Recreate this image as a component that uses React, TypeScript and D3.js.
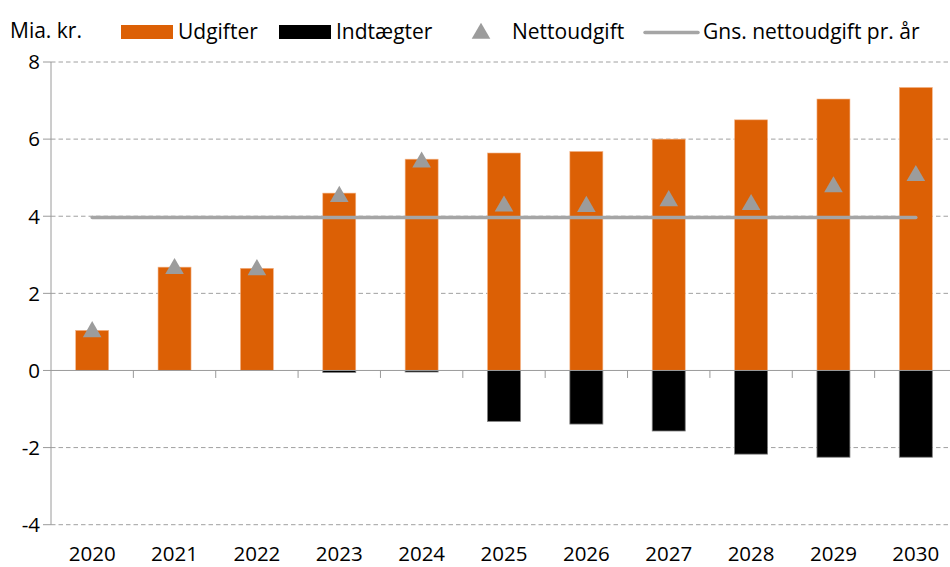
import React from "react";
import * as d3 from "d3";

const years = ["2020","2021","2022","2023","2024","2025","2026","2027","2028","2029","2030"];
const udgifter = [1.04, 2.68, 2.65, 4.6, 5.48, 5.64, 5.68, 6.0, 6.5, 7.04, 7.34];
const indtaegter = [0, 0, 0, -0.05, -0.04, -1.32, -1.39, -1.57, -2.17, -2.25, -2.25];
const nettoudgift = [1.04, 2.68, 2.65, 4.55, 5.44, 4.3, 4.29, 4.44, 4.34, 4.8, 5.09];
const gnsNetto = 3.97;
const yTicks = [-4, -2, 0, 2, 4, 6, 8];

const W = 950, H = 567;
const FONT = "'Open Sans', Lato, sans-serif";
const ORANGE = "#DC6005";
const GREY = "#A5A5A5";

export default function App() {
  const x = d3.scaleBand<string>().domain(years).range([51, 957]).padding(0);
  const y = d3.scaleLinear().domain([-4, 8]).range([524.7, 62]);
  const bw = 33;
  const cx = (yr: string) => (x(yr) as number) + x.bandwidth() / 2;
  const tri = d3.symbol().type(d3.symbolTriangle).size(150);

  return (
    <svg width={W} height={H} style={{ position: "absolute", left: 0, top: 0, background: "#fff" }} fontFamily={FONT}>
      {yTicks.filter(t => t !== 0).map(t => (
        <line key={"g" + t} x1={51} x2={957} y1={y(t)} y2={y(t)} stroke="#A0A0A0" strokeWidth={1} strokeDasharray="4.5,3" />
      ))}
      <line x1={51} x2={51} y1={y(8)} y2={y(-4)} stroke="#9A9A9A" strokeWidth={1} />
      {yTicks.map(t => (
        <g key={"yt" + t}>
          <line x1={43} x2={51} y1={y(t)} y2={y(t)} stroke="#9A9A9A" />
          <text x={40} y={y(t)} dy="0.36em" textAnchor="end" fontSize={20.5} fill="#000">{t}</text>
        </g>
      ))}
      {years.map((yr, i) => (
        <rect key={"u" + yr} x={cx(yr) - bw / 2} width={bw} y={y(udgifter[i])} height={y(0) - y(udgifter[i])} fill={ORANGE} stroke="#F3B58A" strokeWidth={0.6} />
      ))}
      {years.map((yr, i) => indtaegter[i] < 0 ? (
        <rect key={"i" + yr} x={cx(yr) - bw / 2} width={bw} y={y(0)} height={y(indtaegter[i]) - y(0)} fill="#000" stroke="#7F7F7F" strokeWidth={0.8} />
      ) : null)}
      <line x1={51} x2={957} y1={y(0)} y2={y(0)} stroke="#9A9A9A" strokeWidth={1} />
      {years.map(yr => (
        <line key={"xt" + yr} x1={(x(yr) as number) + x.bandwidth()} x2={(x(yr) as number) + x.bandwidth()} y1={y(0)} y2={y(0) + 7.5} stroke="#9A9A9A" />
      ))}
      {years.map(yr => (
        <text key={"xl" + yr} x={cx(yr)} y={561} textAnchor="middle" fontSize={20.5} fill="#000">{yr}</text>
      ))}
      <line x1={cx(years[0])} x2={cx(years[years.length - 1])} y1={y(gnsNetto)} y2={y(gnsNetto)} stroke={GREY} strokeWidth={3.5} strokeLinecap="round" />
      {years.map((yr, i) => (
        <path key={"n" + yr} d={tri() as string} transform={`translate(${cx(yr)},${y(nettoudgift[i]) + 1.5})`} fill="#9C9C9C" />
      ))}
      <text x={10} y={38} fontSize={21} fill="#000">Mia. kr.</text>
      <rect x={121} y={25} width={52} height={14} fill={ORANGE} />
      <text x={178} y={39} fontSize={21} fill="#000">Udgifter</text>
      <rect x={279} y={25} width={52} height={14} fill="#000" />
      <text x={336} y={39} fontSize={21} fill="#000">Indtægter</text>
      <path d={tri() as string} transform="translate(481,33.5)" fill="#9C9C9C" />
      <text x={512} y={39} fontSize={21} fill="#000">Nettoudgift</text>
      <line x1={645} x2={698} y1={32.5} y2={32.5} stroke={GREY} strokeWidth={3.5} strokeLinecap="round" />
      <text x={703} y={39} fontSize={21} fill="#000">Gns. nettoudgift pr. år</text>
    </svg>
  );
}
